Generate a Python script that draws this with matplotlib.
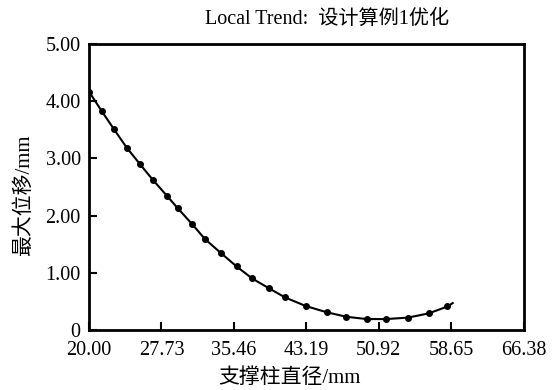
# -*- coding: utf-8 -*-
"""
支撑柱直径 - 最大位移 局部趋势图
"""

import numpy as np
import matplotlib
matplotlib.use('Agg')
import matplotlib.pyplot as plt

# 读图估计的数据点
diameter = [20.00, 21.35, 22.67, 24.02, 25.44, 26.79, 28.35, 29.46, 31.01, 32.37,
            34.04, 35.75, 37.41, 39.19, 40.90, 43.10, 45.34, 47.47, 49.64, 51.66,
            54.01, 56.25, 58.24, 58.80]
displacement = [4.17, 3.83, 3.51, 3.19, 2.90, 2.63, 2.34, 2.13, 1.85, 1.59,
                1.35, 1.11, 0.90, 0.73, 0.57, 0.42, 0.31, 0.23, 0.19, 0.19,
                0.215, 0.29, 0.41, 0.47]
n_marked = 23  # 最后一点只有线没有点

xticks = [20.00, 27.73, 35.46, 43.19, 50.92, 58.65, 66.38]
yticks = [0, 1, 2, 3, 4, 5]
ytick_labels = ['0', '1.00', '2.00', '3.00', '4.00', '5.00']

title = 'Local Trend:  设计算例1优化'
xlabel = '支撑柱直径/mm'
ylabel = '最大位移/mm'

plt.rcParams['font.family'] = ['Liberation Serif', 'Noto Sans CJK SC']

fig = plt.figure(figsize=(5.56, 3.90), dpi=100)
ax = fig.add_axes([0.160, 0.154, 0.782, 0.733])

ax.plot(diameter, displacement, color='black', linewidth=1.5,
        marker='o', markersize=4, markevery=list(range(n_marked)))

ax.set_xlim(xticks[0], xticks[-1])
ax.set_ylim(0, 5)
ax.set_xticks(xticks)
ax.set_xticklabels(['%.2f' % v for v in xticks], fontsize=14.5)
ax.set_yticks(yticks)
ax.set_yticklabels(ytick_labels, fontsize=14.5)
ax.tick_params(direction='in', length=6, width=1.5)
ax.tick_params(axis='x', pad=8)
ax.tick_params(axis='y', pad=6)

for s in ax.spines.values():
    s.set_linewidth(2)

fig.text(327 / 556, 1 - 19 / 390, title, fontsize=14.5, ha='center', va='center')
fig.text(289 / 556, 12 / 390, xlabel, fontsize=15, ha='center', va='center')
fig.text(24 / 556, 0.5, ylabel, fontsize=15, ha='center', va='center',
         rotation=90)

fig.savefig('out.png', dpi=100)
